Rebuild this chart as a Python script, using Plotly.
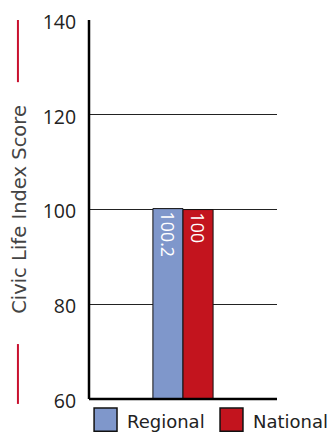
import plotly.graph_objects as go

categories = ["Civic Life"]
series_names = ["Regional", "National"]
regional_values = [100.2]
national_values = [100]
bar_labels_regional = ["100.2"]
bar_labels_national = ["100"]
y_ticks = [60, 80, 100, 120, 140]

colors = {"Regional": "#7F97CB", "National": "#C3141E"}
FONT = "Open Sans"
WIDE = "DejaVu Sans"

fig = go.Figure()
for name, vals, labels in [("Regional", regional_values, bar_labels_regional),
                           ("National", national_values, bar_labels_national)]:
    fig.add_trace(go.Bar(
        x=categories, y=vals, base=0, name=name, showlegend=False,
        marker=dict(color=colors[name], line=dict(color="#111111", width=1)),
        text=labels, textposition="inside", insidetextanchor="end",
        textangle=90, textfont=dict(color="white", size=20, family=FONT),
    ))

# manual legend (boxes + labels) below the plot, in paper coordinates
legend_pos = {"Regional": (0.027, 0.19), "National": (0.697, 0.86)}
for name in series_names:
    bx, tx = legend_pos[name]
    fig.add_shape(type="rect", xref="paper", yref="paper",
                  x0=bx, x1=bx + 0.122, y0=-0.085, y1=-0.024,
                  fillcolor=colors[name], line=dict(color="#111111", width=1.5))
    fig.add_annotation(text=name, xref="paper", yref="paper", x=tx, y=-0.06,
                       xanchor="left", yanchor="middle", showarrow=False,
                       font=dict(size=18, family=WIDE, color="#222222"))

fig.add_shape(type="line", xref="paper", yref="paper", x0=-0.378, x1=-0.378,
              y0=0.836, y1=1.0, line=dict(color="#C8102E", width=2))
fig.add_shape(type="line", xref="paper", yref="paper", x0=-0.378, x1=-0.378,
              y0=-0.013, y1=0.145, line=dict(color="#C8102E", width=2))

# page body has an 8px margin, so figure is offset by 8px
fig.update_layout(
    width=327, height=428,
    margin=dict(l=81, r=58, t=12, b=37),
    paper_bgcolor="white", plot_bgcolor="white",
    barmode="group", bargap=0.68, bargroupgap=0,
    font=dict(family=FONT, color="#222222"),
    showlegend=False,
    xaxis=dict(showticklabels=False, ticks="", showgrid=False, zeroline=False,
               showline=False, range=[-0.5, 0.5], automargin=False),
    yaxis=dict(range=[60, 140.02], tickvals=y_ticks, ticks="outside", ticklen=8,
               tickcolor="rgba(0,0,0,0)", tickfont=dict(size=19.5, family=FONT, color="#222222"),
               ticklabeloverflow="allow", ticklabelshift=2,
               showgrid=True, gridcolor="#222222", gridwidth=1, zeroline=False,
               automargin=False,
               title=dict(text="Civic Life Index Score", font=dict(size=19.5, family=WIDE, color="#444444"),
                          standoff=16)),
)
# axis lines: left and bottom
fig.add_shape(type="line", xref="paper", yref="paper", x0=0, x1=0, y0=0, y1=1,
              line=dict(color="black", width=2.5))
fig.add_shape(type="line", xref="paper", yref="paper", x0=0, x1=1, y0=0, y1=0,
              line=dict(color="black", width=2.5))

fig.write_html("out.html")
